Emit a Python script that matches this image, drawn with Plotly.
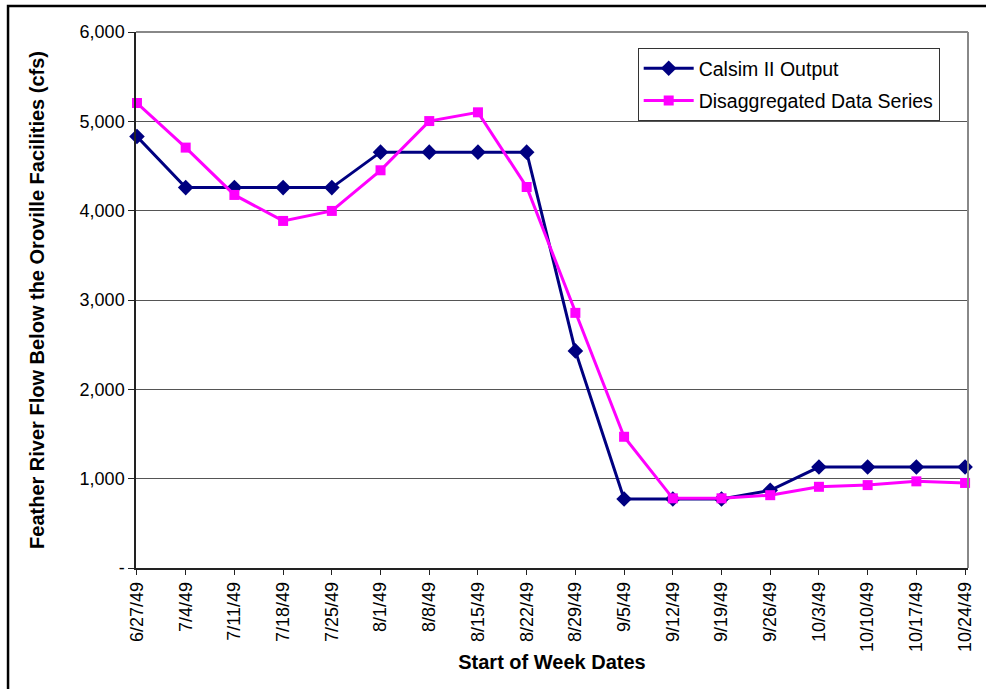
import plotly.graph_objects as go

weeks = ["6/27/49", "7/4/49", "7/11/49", "7/18/49", "7/25/49", "8/1/49", "8/8/49",
         "8/15/49", "8/22/49", "8/29/49", "9/5/49", "9/12/49", "9/19/49", "9/26/49",
         "10/3/49", "10/10/49", "10/17/49", "10/24/49"]
calsim = [4830, 4258, 4258, 4258, 4258, 4655, 4655, 4655, 4655, 2430, 772, 772, 772,
          870, 1130, 1130, 1130, 1130]
disagg = [5205, 4706, 4176, 3885, 3997, 4452, 5003, 5101, 4265, 2856, 1469, 780, 780,
          815, 909, 928, 970, 952]
y_ticks = [0, 1000, 2000, 3000, 4000, 5000, 6000]
y_ticklabels = ["-", "1,000", "2,000", "3,000", "4,000", "5,000", "6,000"]

idx = list(range(len(weeks)))
FONT = "Liberation Sans, Arial, sans-serif"

fig = go.Figure()
fig.add_trace(go.Scatter(
    x=idx, y=calsim, name="Calsim II Output", mode="lines+markers",
    line=dict(color="#000080", width=3),
    marker=dict(symbol="diamond", size=12, color="#000080"),
    legendgroup="a", cliponaxis=False))
fig.add_trace(go.Scatter(
    x=idx, y=disagg, name="Disaggregated Data Series", mode="lines+markers",
    line=dict(color="#FF00FF", width=3),
    marker=dict(symbol="square", size=10, color="#FF00FF"),
    legendgroup="b", cliponaxis=False))

fig.update_layout(
    width=986, height=689,
    margin=dict(l=136, r=18, t=32, b=121),
    paper_bgcolor="white", plot_bgcolor="white",
    font=dict(family=FONT, color="black", size=17),
    showlegend=True,
    legend=dict(x=0.603, y=0.97, xanchor="left", yanchor="top",
                bgcolor="white", bordercolor="#333", borderwidth=1,
                font=dict(size=19.5, family=FONT), traceorder="grouped",
                tracegroupgap=4, itemwidth=50),
    xaxis=dict(
        range=[-0.02, 17.06], tickmode="array", tickvals=idx, ticktext=weeks,
        tickangle=-90, showgrid=False, zeroline=False,
        showline=True, linecolor="#222", linewidth=1.5,
        ticks="outside", ticklen=5, tickcolor="#222",
        tickfont=dict(size=18, family=FONT),
        title=dict(text="<b>Start of Week Dates</b>", font=dict(size=20, family=FONT),
                   standoff=4)),
    yaxis=dict(
        range=[0, 6000], tickmode="array", tickvals=y_ticks, ticktext=y_ticklabels,
        showgrid=True, gridcolor="#555", gridwidth=1, zeroline=False,
        showline=True, linecolor="#222", linewidth=1.5,
        ticks="outside", ticklen=6, tickcolor="#222",
        tickfont=dict(size=18, family=FONT),
        title=dict(text="<b>Feather River Flow Below the Oroville Facilities (cfs)</b>",
                   font=dict(size=20, family=FONT), standoff=30)),
)

# plot area frame (top and right, grey)
fig.add_shape(type="line", xref="paper", yref="paper", x0=0, x1=1, y0=1, y1=1,
              line=dict(color="#888", width=2), layer="above")
fig.add_shape(type="line", xref="paper", yref="paper", x0=1, x1=1, y0=0, y1=1,
              line=dict(color="#888", width=2), layer="above")
# outer chart border (right and bottom sides run off the picture)
fig.add_shape(type="rect", xref="paper", yref="paper",
              x0=-0.1538, x1=1.05, y0=-0.3, y1=1.0485,
              line=dict(color="black", width=2.5), layer="above")

fig.write_html(
    "out.html",
    config={"displayModeBar": False},
    post_script="document.body.style.margin='0';document.body.style.overflow='hidden';",
)
